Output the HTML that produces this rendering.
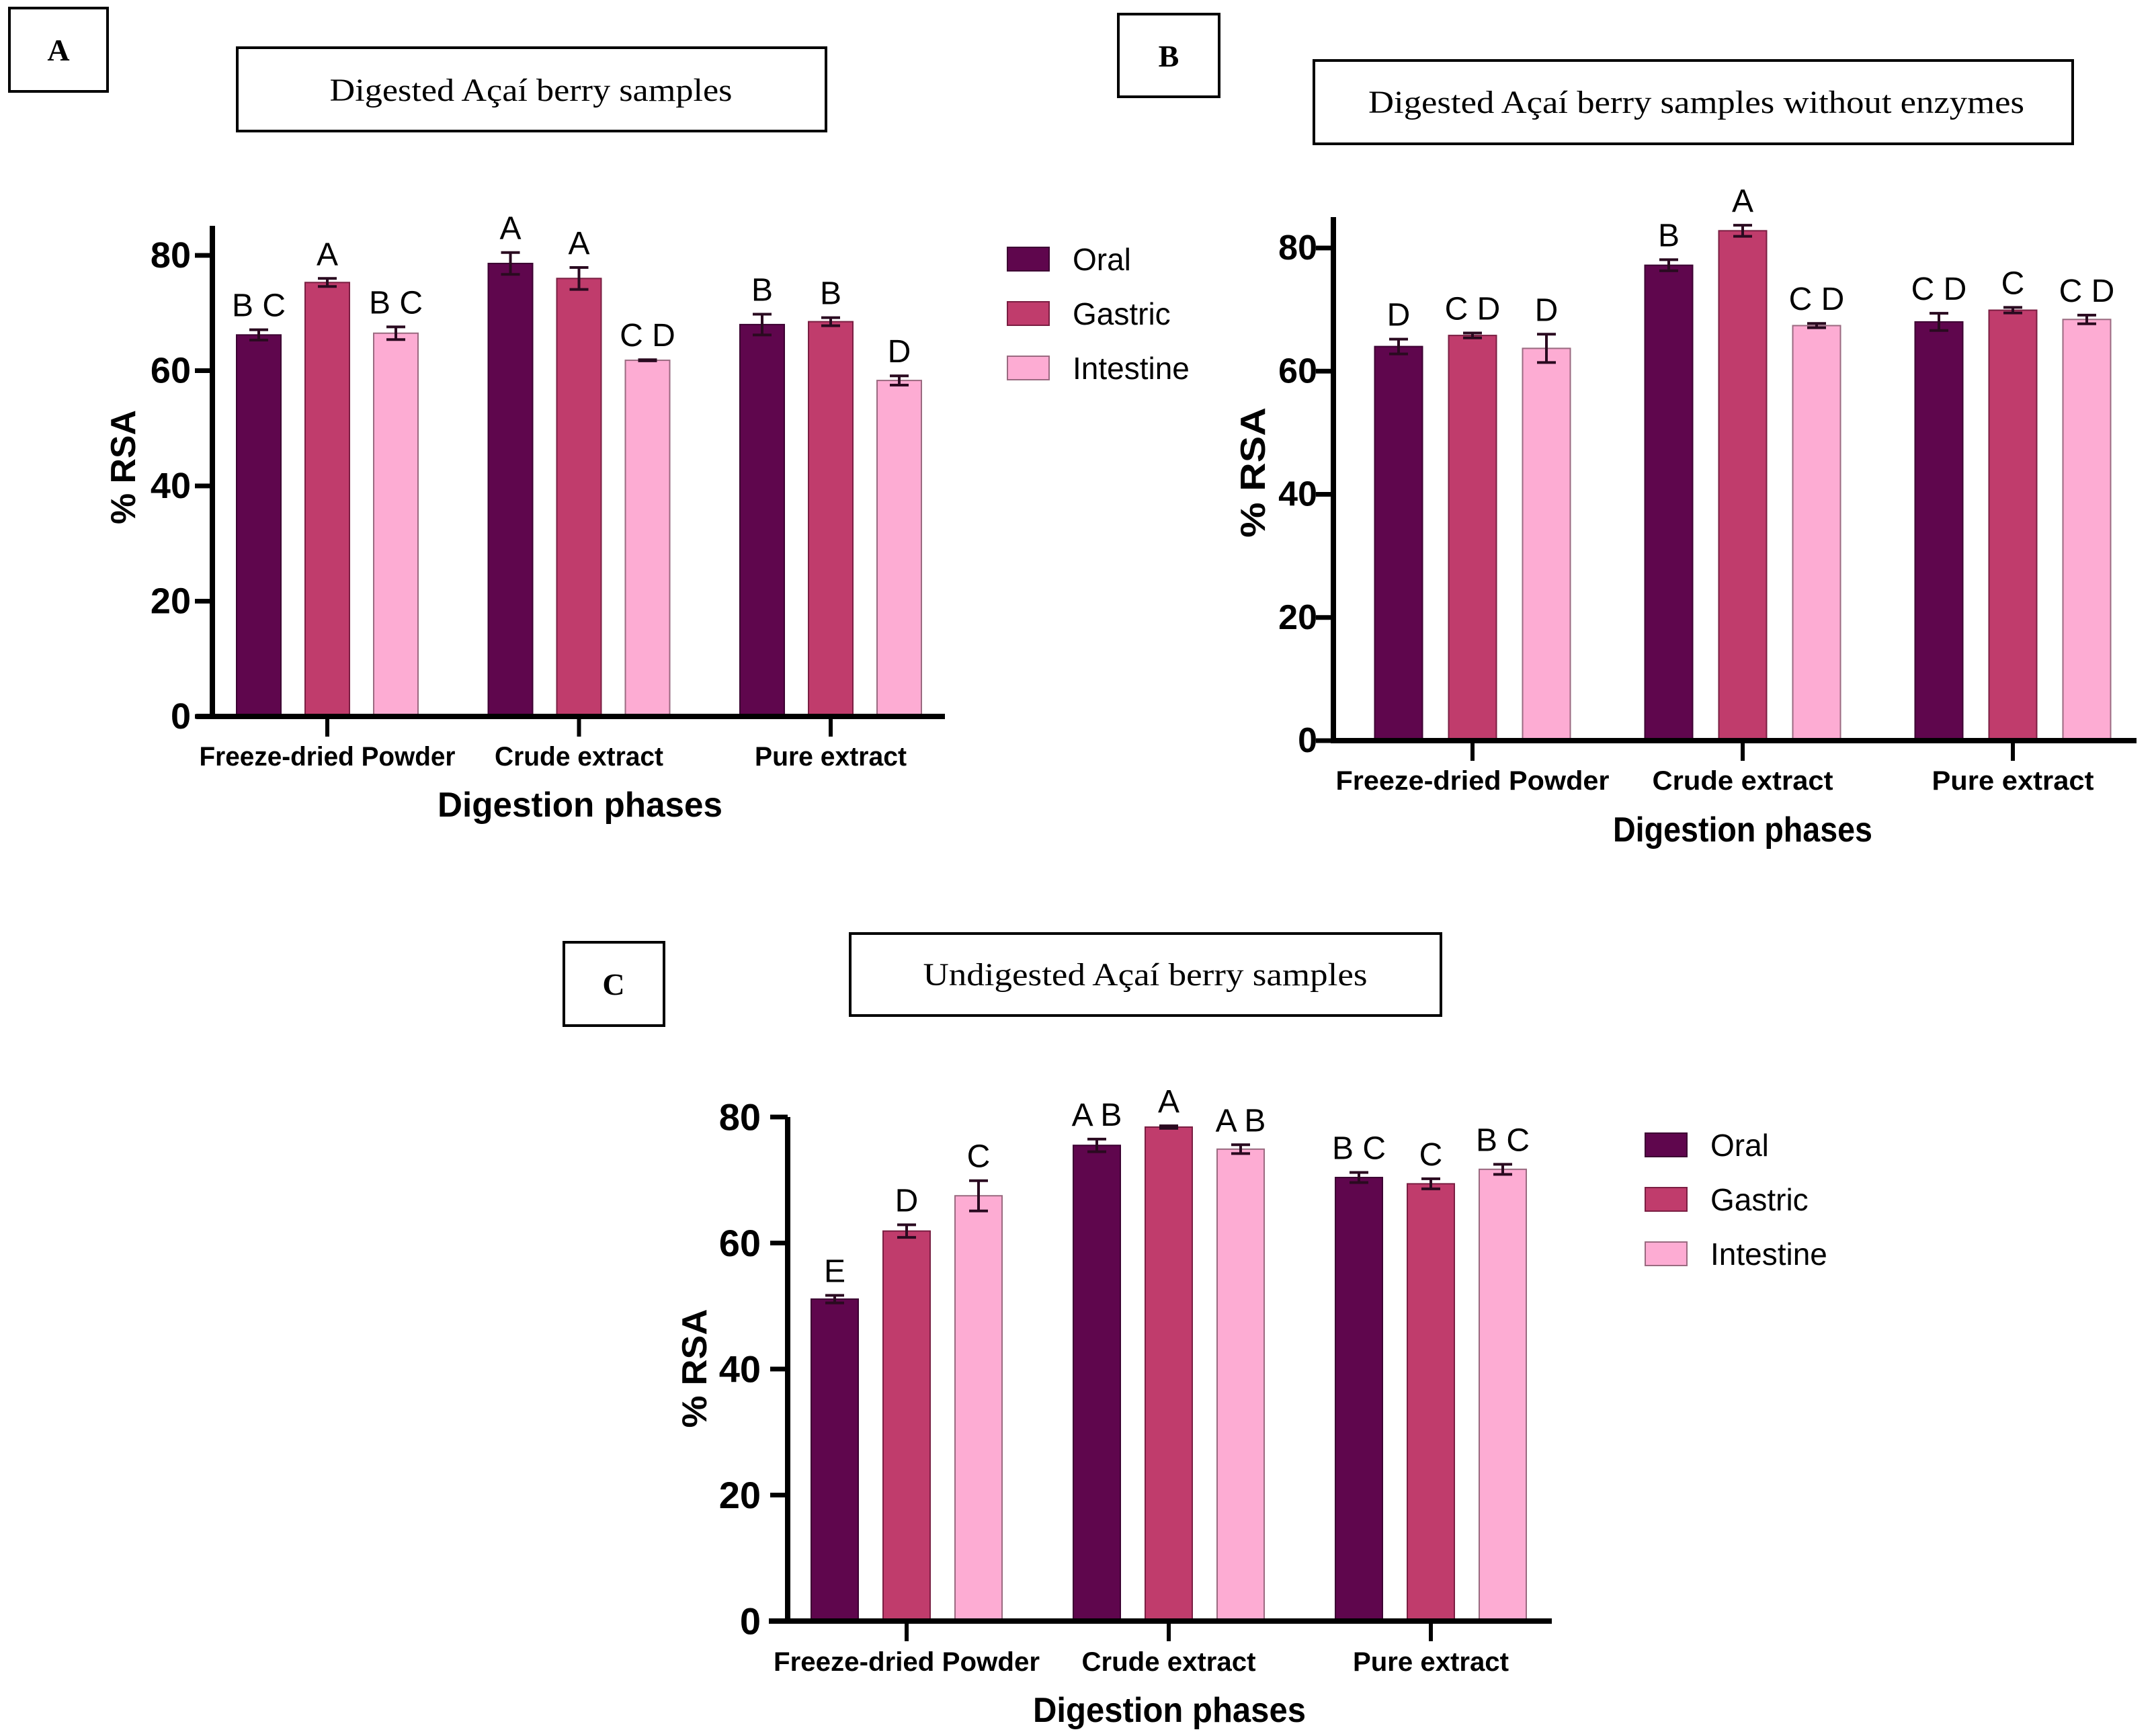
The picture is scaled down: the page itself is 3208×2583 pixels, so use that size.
<!DOCTYPE html>
<html><head><meta charset="utf-8">
<style>
html,body{margin:0;padding:0;background:#fff;}
svg{display:block;}
.box{fill:none;stroke:#000;stroke-width:4;}
.serif{font-family:"Liberation Serif",serif;}
.sans{font-family:"Liberation Sans",sans-serif;}
</style></head>
<body>
<svg id="fig" width="3208" height="2583" viewBox="0 0 3208 2583" xmlns="http://www.w3.org/2000/svg">
  <g>
    <rect class="box" x="14" y="12" width="146" height="124"/>
    <text class="serif" x="87" y="90" font-size="46" font-weight="bold" text-anchor="middle">A</text>
    <rect class="box" x="353" y="71" width="876" height="124"/>
    <text class="serif" x="790" y="150" font-size="48" text-anchor="middle" textLength="599" lengthAdjust="spacingAndGlyphs">Digested Açaí berry samples</text>
  </g>
  <g>
    <rect class="box" x="1664" y="21" width="150" height="123"/>
    <text class="serif" x="1739" y="99" font-size="46" font-weight="bold" text-anchor="middle">B</text>
    <rect class="box" x="1955" y="90" width="1129" height="124"/>
    <text class="serif" x="2524" y="168" font-size="48" text-anchor="middle" textLength="976" lengthAdjust="spacingAndGlyphs">Digested Açaí berry samples without enzymes</text>
  </g>
  <g>
    <rect class="box" x="839" y="1402" width="149" height="124"/>
    <text class="serif" x="913" y="1480" font-size="46" font-weight="bold" text-anchor="middle">C</text>
    <rect class="box" x="1265" y="1389" width="879" height="122"/>
    <text class="serif" x="1704" y="1466" font-size="48" text-anchor="middle" textLength="661" lengthAdjust="spacingAndGlyphs">Undigested Açaí berry samples</text>
  </g>
</svg>
<script>
const categories = ["Freeze-dried Powder", "Crude extract", "Pure extract"];
const seriesNames = ["Oral", "Gastric", "Intestine"];
const yTicks = [0, 20, 40, 60, 80];

const aOral = [66.2, 78.6, 68.0];
const aGastric = [75.3, 76.0, 68.5];
const aIntestine = [66.5, 61.8, 58.3];
const aOralErr = [0.9, 1.9, 1.8];
const aGastricErr = [0.7, 1.9, 0.7];
const aIntestineErr = [1.1, 0.1, 0.8];
const aOralLetters = ["B C", "A", "B"];
const aGastricLetters = ["A", "A", "B"];
const aIntestineLetters = ["B C", "C D", "D"];

const bOral = [64.0, 77.2, 68.0];
const bGastric = [65.8, 82.8, 69.9];
const bIntestine = [63.7, 67.4, 68.4];
const bOralErr = [1.2, 0.9, 1.4];
const bGastricErr = [0.4, 0.9, 0.45];
const bIntestineErr = [2.3, 0.35, 0.7];
const bOralLetters = ["D", "B", "C D"];
const bGastricLetters = ["C D", "A", "C"];
const bIntestineLetters = ["D", "C D", "C D"];

const cOral = [51.1, 75.5, 70.4];
const cGastric = [61.9, 78.4, 69.4];
const cIntestine = [67.5, 74.9, 71.7];
const cOralErr = [0.6, 1.0, 0.8];
const cGastricErr = [1.0, 0.2, 0.8];
const cIntestineErr = [2.4, 0.7, 0.8];
const cOralLetters = ["E", "A B", "B C"];
const cGastricLetters = ["D", "A", "C"];
const cIntestineLetters = ["C", "A B", "B C"];

const fills = ["#5f064d", "#c03c6c", "#fdacd3"];
const strokes = ["#3c0232", "#7a1e42", "#9a6a80"];
const NS = "http://www.w3.org/2000/svg";
const svg = document.getElementById("fig");

function mk(tag, attrs, parent) {
  const el = document.createElementNS(NS, tag);
  for (const k in attrs) el.setAttribute(k, attrs[k]);
  parent.appendChild(el);
  return el;
}

function drawPanel(p, values, errs, letters) {
  const g = mk("g", {}, svg);
  
  
  const y = v => p.y0 - (p.y0 - p.y80) * v / 80;
  const gx = i => p.first + i * p.spacing;
  // y axis
  const ya = mk("line", {x1: p.ax, y1: p.yTop, x2: p.ax, y2: p.y0 + 4, stroke: "#000", "stroke-width": 8}, g);
  
  
  yTicks.forEach(t => {
    const tk = mk("line", {x1: p.ax - 26, y1: y(t), x2: p.ax, y2: y(t), stroke: "#000", "stroke-width": 7}, g);
    
    
    const tl = mk("text", {x: p.ax - p.lblGap, y: y(t), "font-size": p.tickFs, "font-weight": "bold", "text-anchor": "end", "dominant-baseline": "central", class: "sans"}, g);
    tl.textContent = t;
    
    
  });
  // bars
  categories.forEach((c, i) => {
    for (let s = 0; s < 3; s++) {
      const cx = gx(i) + (s - 1) * p.off;
      const v = values[s][i], e = errs[s][i];
      const r = mk("rect", {x: cx - p.bw / 2, y: y(v), width: p.bw, height: p.y0 - y(v), fill: fills[s], stroke: strokes[s], "stroke-width": 2}, g);
      
      
      const eg = mk("g", {stroke: "#2a0a20", "stroke-width": 4}, g);
      
      
      mk("line", {x1: cx, y1: y(v + e), x2: cx, y2: y(v - e)}, eg);
      mk("line", {x1: cx - 14, y1: y(v + e), x2: cx + 14, y2: y(v + e)}, eg);
      mk("line", {x1: cx - 14, y1: y(v - e), x2: cx + 14, y2: y(v - e)}, eg);
      const lt = mk("text", {x: cx, y: y(v + e) - 20, "font-size": 48, "text-anchor": "middle", class: "sans"}, g);
      lt.textContent = letters[s][i];
      
      
    }
    const ct = mk("line", {x1: gx(i), y1: p.y0, x2: gx(i), y2: p.y0 + 30, stroke: "#000", "stroke-width": 6}, g);
    
    
    const cl = mk("text", {x: gx(i), y: p.catY, "font-size": 40, "font-weight": "bold", "text-anchor": "middle", "dominant-baseline": "central", class: "sans", textLength: p.catW[i], lengthAdjust: "spacingAndGlyphs"}, g);
    cl.textContent = c;
    
    
  });
  const xa = mk("line", {x1: p.xs, y1: p.y0, x2: p.xe, y2: p.y0, stroke: "#000", "stroke-width": 8}, g);
  
  
  const xt = mk("text", {x: p.xtX, y: p.xtY, "font-size": 52, "font-weight": "bold", "text-anchor": "middle", "dominant-baseline": "central", class: "sans", textLength: p.xtW, lengthAdjust: "spacingAndGlyphs"}, g);
  xt.textContent = "Digestion phases";
  
  
  const yt = mk("text", {x: 0, y: 0, "font-size": 52, "font-weight": "bold", "text-anchor": "middle", "dominant-baseline": "central", class: "sans", textLength: p.ytW, lengthAdjust: "spacingAndGlyphs", transform: "translate(" + p.ytX + "," + p.ytY + ") rotate(-90)"}, g);
  yt.textContent = "% RSA";
  
  
  if (p.leg) {
    const lg = mk("g", {}, g);
    
    
    for (let s = 0; s < 3; s++) {
      const ly = p.leg.y + s * p.leg.step;
      const sq = mk("rect", {x: p.leg.x, y: ly, width: 62, height: 35, fill: fills[s], stroke: strokes[s], "stroke-width": 2}, lg);
      
      
      const tx = mk("text", {x: p.leg.x + 97, y: ly + 18, "font-size": 46, "dominant-baseline": "central", class: "sans"}, lg);
      tx.textContent = seriesNames[s];
      
      
    }
  }
}

drawPanel({id: "panel-a", ax: 316, y0: 1066, y80: 380, yTop: 336, xs: 292, xe: 1406, first: 487, spacing: 374.5, off: 102, bw: 66,
  lblGap: 32, tickFs: 54, catY: 1126, catW: [381, 251, 226], xtX: 863, xtY: 1198, xtW: 424, ytX: 184, ytY: 695, ytW: 170,
  leg: {x: 1499, y: 368, step: 81}},
  [aOral, aGastric, aIntestine], [aOralErr, aGastricErr, aIntestineErr], [aOralLetters, aGastricLetters, aIntestineLetters]);

drawPanel({id: "panel-b", ax: 1984, y0: 1102, y80: 369, yTop: 323, xs: 1980, xe: 3179, first: 2191, spacing: 402, off: 110, bw: 71,
  lblGap: 24, tickFs: 52, catY: 1162, catW: [407, 269, 241], xtX: 2593, xtY: 1235, xtW: 386, ytX: 1865, ytY: 703, ytW: 194},
  [bOral, bGastric, bIntestine], [bOralErr, bGastricErr, bIntestineErr], [bOralLetters, bGastricLetters, bIntestineLetters]);

drawPanel({id: "panel-c", ax: 1172, y0: 2412, y80: 1662, yTop: 1662, xs: 1144, xe: 2309, first: 1349, spacing: 390, off: 107, bw: 70,
  lblGap: 40, tickFs: 56, catY: 2473, catW: [396, 259, 232], xtX: 1740, xtY: 2545, xtW: 406, ytX: 1034, ytY: 2036, ytW: 177,
  leg: {x: 2448, y: 1686, step: 81}},
  [cOral, cGastric, cIntestine], [cOralErr, cGastricErr, cIntestineErr], [cOralLetters, cGastricLetters, cIntestineLetters]);
</script>
</body></html>
